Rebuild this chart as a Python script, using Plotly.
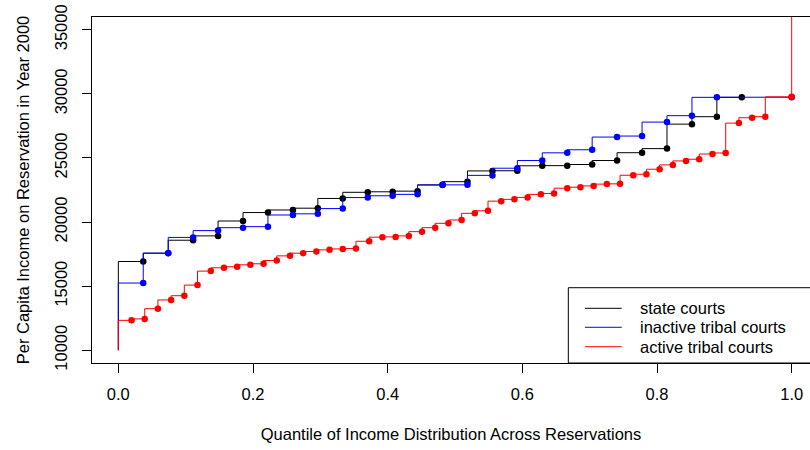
import plotly.graph_objects as go

# ---------------- data ----------------
series_names = ["state courts", "inactive tribal courts", "active tribal courts"]
series_colors = ["#000000", "#0000FF", "#FF0000"]

# quantile positions and per-capita income (year 2000) for each group
state_q = [0.0370, 0.0741, 0.1111, 0.1481, 0.1852, 0.2222, 0.2593, 0.2963, 0.3333,
           0.3704, 0.4074, 0.4444, 0.4815, 0.5185, 0.5556, 0.5926, 0.6296, 0.6667,
           0.7037, 0.7407, 0.7778, 0.8148, 0.8519, 0.8889, 0.9259]
state_income = [16920, 17570, 18580, 18920, 20080, 20740, 20940, 21080, 21840,
                22320, 22360, 22410, 22900, 23150, 23990, 24000, 24390, 24400,
                24490, 24800, 25410, 25730, 27640, 28220, 29730]

inactive_q = [0.0370, 0.0741, 0.1111, 0.1481, 0.1852, 0.2222, 0.2593, 0.2963, 0.3333,
              0.3704, 0.4074, 0.4444, 0.4815, 0.5185, 0.5556, 0.5926, 0.6296, 0.6667,
              0.7037, 0.7407, 0.7778, 0.8148, 0.8519, 0.8889, 1.0000]
inactive_income = [15240, 17570, 18800, 19330, 19560, 19640, 20550, 20640, 21050,
                   21910, 22050, 22160, 22890, 22900, 23640, 24200, 24800, 25400,
                   25640, 26630, 26710, 27800, 28300, 29730, 29740]

active_q = [0.0196, 0.0392, 0.0588, 0.0784, 0.0980, 0.1176, 0.1373, 0.1569, 0.1765,
            0.1961, 0.2157, 0.2353, 0.2549, 0.2745, 0.2941, 0.3137, 0.3333, 0.3529,
            0.3725, 0.3922, 0.4118, 0.4314, 0.4510, 0.4706, 0.4902, 0.5098, 0.5294,
            0.5490, 0.5686, 0.5882, 0.6078, 0.6275, 0.6471, 0.6667, 0.6863, 0.7059,
            0.7255, 0.7451, 0.7647, 0.7843, 0.8039, 0.8235, 0.8431, 0.8627, 0.8824,
            0.9020, 0.9216, 0.9412, 0.9608, 1.0000]
active_income = [12330, 12440, 13240, 13920, 14250, 15080, 16170, 16430, 16510,
                 16660, 16740, 17000, 17360, 17570, 17700, 17830, 17900, 17930,
                 18500, 18820, 18840, 18920, 19250, 19560, 19900, 20160, 20680,
                 20880, 21630, 21770, 21920, 22160, 22230, 22640, 22720, 22820,
                 22960, 22980, 23650, 23730, 24120, 24460, 24770, 24900, 25310,
                 25390, 27720, 28140, 28220, 29770]

group_min_income = [10000, 10000, 10000]      # lowest income in each group (x = 0)
group_max_income = [29730, 29740, 38000]      # highest income in each group (x = 1)

x_tick_vals = [0.0, 0.2, 0.4, 0.6, 0.8, 1.0]
x_tick_text = ["0.0", "0.2", "0.4", "0.6", "0.8", "1.0"]
y_tick_vals = [10000, 15000, 20000, 25000, 30000, 35000]
y_tick_text = ["10000", "15000", "20000", "25000", "30000", "35000"]

x_title = "Quantile of Income Distribution Across Reservations"
y_title = "Per Capita Income on Reservation in Year 2000"

# ---------------- figure ----------------
FONT = "Liberation Sans, Arial, sans-serif"
FS = 16.5

groups = [(state_q, state_income), (inactive_q, inactive_income), (active_q, active_income)]

fig = go.Figure()
for k, (q, inc) in enumerate(groups):
    col = series_colors[k]
    line_x = [0.0] + q
    line_y = [group_min_income[k]] + inc
    if k == 2:
        line_x = line_x + [1.0]
        line_y = line_y + [group_max_income[k]]
    fig.add_trace(go.Scatter(
        x=line_x, y=line_y, mode="lines", name=series_names[k],
        line=dict(color=col, width=1, shape="vh"), showlegend=False,
        hoverinfo="skip"))
    fig.add_trace(go.Scatter(
        x=q, y=inc, mode="markers", name=series_names[k],
        marker=dict(color=col, size=6.5, line=dict(width=0)), showlegend=False))

# legend drawn R-style (box at bottom right, cut by the page edge)
shapes = [dict(type="rect", xref="paper", yref="paper", x0=0.6634, x1=1.06, y0=0.0, y1=0.2176,
               line=dict(color="black", width=1), fillcolor="rgba(0,0,0,0)", layer="above")]
annotations = []
rows_y = [0.1581, 0.1032, 0.0471]
for k in range(3):
    shapes.append(dict(type="line", xref="paper", yref="paper", x0=0.6866, x1=0.7378,
                       y0=rows_y[k], y1=rows_y[k], line=dict(color=series_colors[k], width=1)))
    annotations.append(dict(xref="paper", yref="paper", x=0.7618, y=rows_y[k],
                            xanchor="left", yanchor="middle", text=series_names[k],
                            showarrow=False, borderpad=0,
                            font=dict(family=FONT, size=FS, color="black")))

fig.update_layout(
    width=810, height=450,
    margin=dict(l=92, r=0, t=17, b=87, autoexpand=False),
    paper_bgcolor="white", plot_bgcolor="white",
    font=dict(family=FONT, size=FS, color="black"),
    shapes=shapes, annotations=annotations,
    showlegend=False,
    xaxis=dict(range=[-0.0391, 1.0272], showgrid=False, zeroline=False, automargin=False,
               showline=True, mirror=True, linecolor="black", linewidth=1,
               ticks="outside", ticklen=9, tickcolor="black", tickwidth=1,
               tickvals=x_tick_vals, ticktext=x_tick_text, ticklabelstandoff=7,
               ticklabeloverflow="allow",
               tickfont=dict(family=FONT, size=FS, color="black"),
               title=dict(text=x_title, standoff=26,
                          font=dict(family=FONT, size=FS, color="black"))),
    yaxis=dict(range=[9000, 36000], showgrid=False, zeroline=False, automargin=False,
               showline=True, mirror=False, linecolor="black", linewidth=1,
               ticks="outside", ticklen=9, tickcolor="black", tickwidth=1,
               tickvals=y_tick_vals, ticktext=y_tick_text, tickangle=-90,
               ticklabelstandoff=8, ticklabeloverflow="allow",
               tickfont=dict(family=FONT, size=FS, color="black"),
               title=dict(text=y_title, standoff=18,
                          font=dict(family=FONT, size=FS, color="black"))),
)

# remove the browser's default 8px page margin so the 810x450 figure fills the window
fig.write_html("out.html",
               config={"displayModeBar": False, "staticPlot": True},
               post_script="document.body.style.margin='0';document.body.style.overflow='hidden';")
